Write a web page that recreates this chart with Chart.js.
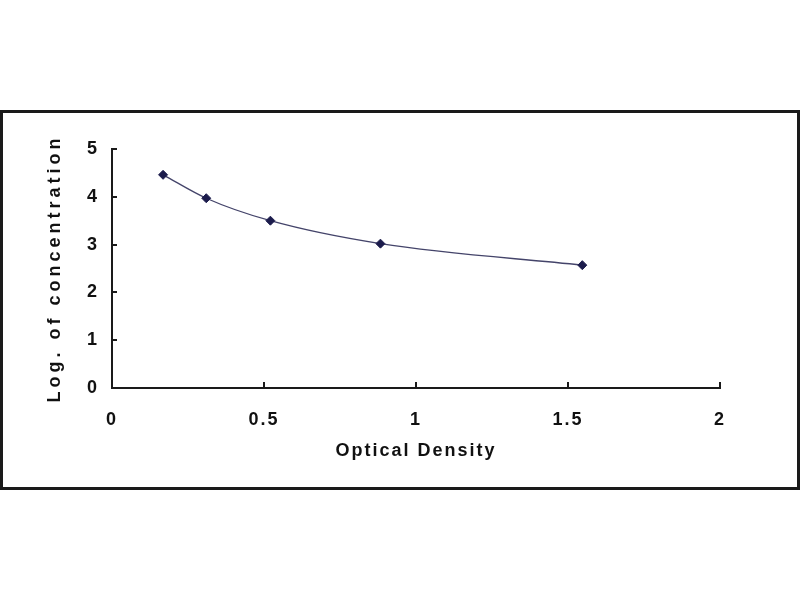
<!DOCTYPE html>
<html>
<head>
<meta charset="utf-8">
<script src="https://cdn.jsdelivr.net/npm/chart.js@4/dist/chart.umd.min.js"></script>
<style>
  html, body { margin: 0; padding: 0; background: #ffffff; width: 800px; height: 600px; overflow: hidden; }
  #frame { position: absolute; left: 0; top: 110px; width: 800px; height: 380px; box-sizing: border-box; border: 3px solid #1a1a1a; background: #fff; }
  #wrap { position: absolute; left: 0; top: 0; width: 794px; height: 374px; }
</style>
</head>
<body>
<div id="frame"><div id="wrap"><canvas id="c"></canvas></div></div>
<script>
const opticalDensity = [0.168, 0.31, 0.521, 0.883, 1.547];
const logConcentration = [4.46, 3.97, 3.5, 3.02, 2.57];
const xTicks = [0, 0.5, 1, 1.5, 2];
const yTicks = [0, 1, 2, 3, 4, 5];
const xTitle = 'Optical Density';
const yTitle = 'Log. of concentration';

const points = opticalDensity.map((x, i) => ({ x: x, y: logConcentration[i] }));

const spacingPlugin = {
  id: 'spacing',
  beforeDraw(chart) { chart.ctx.letterSpacing = '2px'; },
  afterDatasetsDraw(chart) { chart.ctx.letterSpacing = '4px'; },
  afterDraw(chart) { chart.ctx.letterSpacing = '0px'; }
};

const font = { family: '"Liberation Sans", Arial, sans-serif', weight: 'bold', size: 18 };

new Chart(document.getElementById('c'), {
  type: 'scatter',
  data: {
    datasets: [{
      data: points,
      showLine: true,
      cubicInterpolationMode: 'monotone',
      borderColor: '#44446a',
      borderWidth: 1.3,
      pointStyle: 'rectRot',
      pointRadius: 4.5,
      pointBackgroundColor: '#1c1c4c',
      pointBorderColor: '#1c1c4c',
      pointBorderWidth: 1
    }]
  },
  options: {
    responsive: true,
    maintainAspectRatio: false,
    animation: false,
    layout: { padding: { left: 0, top: 36, right: 77, bottom: 0 } },
    plugins: { legend: { display: false }, tooltip: { enabled: false } },
    scales: {
      x: {
        type: 'linear',
        min: 0, max: 2,
        afterBuildTicks(s) { s.ticks = xTicks.map(v => ({ value: v })); },
        afterFit(s) { s.height = 99; },
        border: { display: true, color: '#1a1a1a', width: 2 },
        grid: { drawOnChartArea: false, drawTicks: true, tickLength: -6, color: '#1a1a1a', lineWidth: 2 },
        ticks: { color: '#111111', font: font, padding: 27, maxRotation: 0, callback: v => String(v) },
        title: { display: true, text: xTitle, color: '#111111', font: font, padding: { top: 0, bottom: 25 } }
      },
      y: {
        type: 'linear',
        min: 0, max: 5,
        afterBuildTicks(s) { s.ticks = yTicks.map(v => ({ value: v })); },
        afterFit(s) { s.width = 109; },
        border: { z: 2, display: true, color: '#1a1a1a', width: 2 },
        grid: { z: 1, drawOnChartArea: false, drawTicks: true, tickLength: -5, color: '#1a1a1a', lineWidth: 2 },
        ticks: { color: '#111111', font: font, padding: 18, callback: v => String(v) },
        title: { display: true, text: yTitle, color: '#111111', font: font, padding: { top: 41, bottom: 0 } }
      }
    }
  },
  plugins: [spacingPlugin]
});
</script>
</body>
</html>
